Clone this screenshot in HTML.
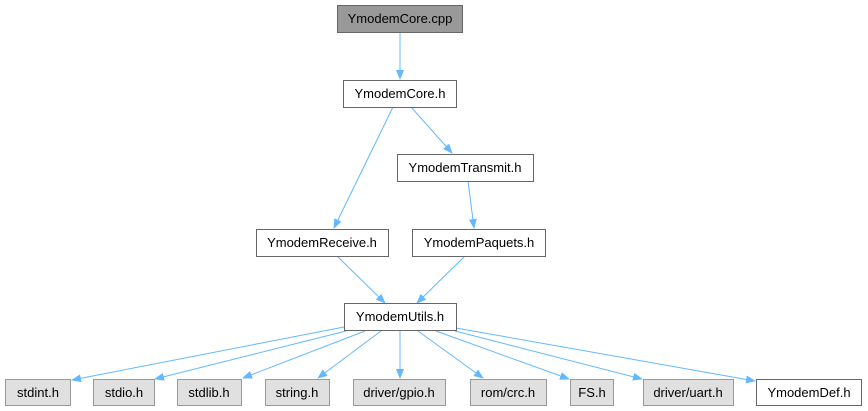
<!DOCTYPE html>
<html><head><meta charset="utf-8"><style>
html,body{margin:0;padding:0;background:#fff;width:868px;height:411px;overflow:hidden}
text{font-family:"Liberation Sans",sans-serif;font-size:13px;fill:#000;text-anchor:middle}
</style></head><body>
<svg width="868" height="411" viewBox="0 0 868 411" xmlns="http://www.w3.org/2000/svg">
<defs><marker id="a" markerWidth="10" markerHeight="8" refX="9" refY="4" orient="auto" markerUnits="userSpaceOnUse"><path d="M0,0 L10,4 L0,8 z" fill="#63b8ff"/></marker></defs>
<g stroke="#63b8ff" stroke-width="1" fill="none" marker-end="url(#a)">
<line x1="400" y1="32" x2="400" y2="79"/>
<line x1="393" y1="107" x2="334" y2="228"/>
<line x1="411" y1="107" x2="452" y2="153"/>
<line x1="468" y1="181" x2="474" y2="228"/>
<line x1="337" y1="256" x2="385" y2="303"/>
<line x1="465" y1="256" x2="417" y2="303"/>
<line x1="344" y1="327" x2="72" y2="380"/>
<line x1="346" y1="331" x2="155" y2="379"/>
<line x1="365" y1="331" x2="243" y2="378"/>
<line x1="381" y1="331" x2="318" y2="378"/>
<line x1="400" y1="331" x2="400" y2="378"/>
<line x1="418" y1="331" x2="483" y2="378"/>
<line x1="436" y1="331" x2="569" y2="379"/>
<line x1="455" y1="331" x2="642" y2="379"/>
<line x1="456" y1="328" x2="755" y2="381"/>
</g>
<g stroke-width="1">
<rect x="337.5" y="5.5" width="125" height="27" fill="#999" stroke="#666"/>
<rect x="343.5" y="80.5" width="113" height="27" fill="#fff" stroke="#666"/>
<rect x="397.5" y="154.5" width="136" height="27" fill="#fff" stroke="#666"/>
<rect x="256.5" y="229.5" width="132" height="27" fill="#fff" stroke="#666"/>
<rect x="412.5" y="229.5" width="133" height="27" fill="#fff" stroke="#666"/>
<rect x="344.5" y="303.5" width="112" height="27" fill="#fff" stroke="#666"/>
<g fill="#e0e0e0" stroke="#999">
<rect x="5.5" y="379.5" width="65" height="26"/>
<rect x="93.5" y="379.5" width="61" height="26"/>
<rect x="177.5" y="379.5" width="64" height="26"/>
<rect x="265.5" y="379.5" width="64" height="26"/>
<rect x="353.5" y="379.5" width="92" height="26"/>
<rect x="470.5" y="379.5" width="76" height="26"/>
<rect x="570.5" y="379.5" width="43" height="26"/>
<rect x="643.5" y="379.5" width="90" height="26"/>
</g>
<rect x="756.5" y="379.5" width="105" height="26" fill="#fff" stroke="#666"/>
</g>
<text x="400" y="23">YmodemCore.cpp</text>
<text x="400" y="98">YmodemCore.h</text>
<text x="465" y="172">YmodemTransmit.h</text>
<text x="322" y="247">YmodemReceive.h</text>
<text x="479" y="247">YmodemPaquets.h</text>
<text x="400" y="321">YmodemUtils.h</text>
<text x="38" y="397">stdint.h</text>
<text x="124" y="397">stdio.h</text>
<text x="209" y="397">stdlib.h</text>
<text x="297" y="397">string.h</text>
<text x="399" y="397">driver/gpio.h</text>
<text x="508" y="397">rom/crc.h</text>
<text x="592" y="397">FS.h</text>
<text x="688" y="397">driver/uart.h</text>
<text x="809" y="397">YmodemDef.h</text>
</svg>
</body></html>
